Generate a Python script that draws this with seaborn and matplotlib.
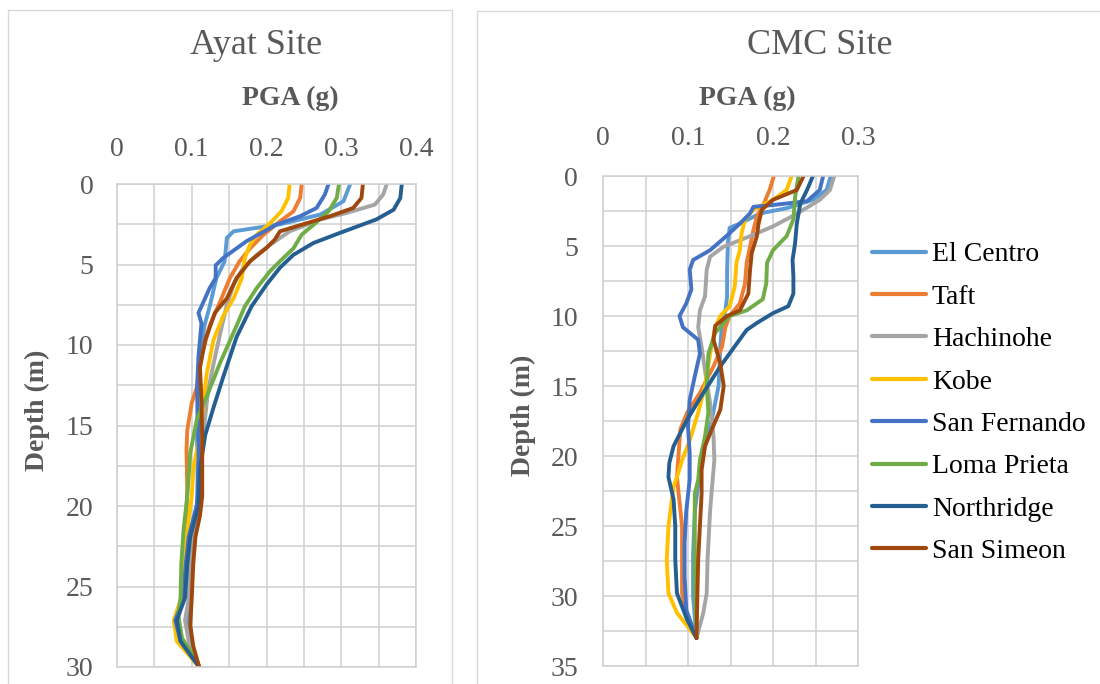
import matplotlib
matplotlib.use("Agg")
import matplotlib.pyplot as plt
from matplotlib.patches import Rectangle
from matplotlib.ticker import MultipleLocator, FuncFormatter
import pandas as pd
import seaborn as sns

# Ground-motion records and their line colours
records = ["El Centro", "Taft", "Hachinohe", "Kobe", "San Fernando",
           "Loma Prieta", "Northridge", "San Simeon"]
record_colors = ["#5B9BD5", "#ED7D31", "#A5A5A5", "#FFC000", "#4472C4",
                 "#70AD47", "#255E91", "#9E480E"]

# ---- Ayat site: (depth m, PGA g) profiles ----
ayat_el_centro = ([0, 1.07, 1.9, 2.5, 2.94, 3.35, 4.8, 5.84, 7.6, 8.8, 10.5, 12.2, 15, 19.4, 21.9, 23.6, 26.3, 27.4, 29, 30],
                  [0.312, 0.303, 0.272, 0.218, 0.156, 0.147, 0.144, 0.133, 0.124, 0.117, 0.112, 0.109, 0.107, 0.108, 0.102, 0.097, 0.097, 0.094, 0.100, 0.110])
ayat_taft = ([0, 0.87, 1.7, 2.32, 3.15, 4.0, 4.8, 5.84, 7.3, 8.8, 10.7, 12.6, 13.6, 15.3, 16.5, 19, 21.5, 23.6, 25.7, 27.2, 28.4, 30],
             [0.247, 0.245, 0.236, 0.218, 0.196, 0.178, 0.164, 0.151, 0.138, 0.124, 0.113, 0.107, 0.100, 0.094, 0.093, 0.094, 0.092, 0.089, 0.086, 0.078, 0.083, 0.110])
ayat_hachinohe = ([0, 0.66, 1.28, 1.8, 2.2, 2.94, 3.77, 4.4, 5.2, 6.25, 7.5, 9.3, 11.2, 12.8, 15.3, 17.5, 20, 21.9, 23.6, 25.7, 27.1, 28.4, 30],
                  [0.361, 0.356, 0.345, 0.307, 0.272, 0.231, 0.205, 0.187, 0.169, 0.156, 0.147, 0.138, 0.129, 0.122, 0.116, 0.111, 0.110, 0.102, 0.099, 0.096, 0.091, 0.096, 0.110])
ayat_kobe = ([0, 0.87, 1.7, 2.42, 3.15, 3.77, 4.6, 5.84, 7.1, 8.2, 9.7, 11.8, 13.4, 15.3, 17.7, 19.4, 21.5, 23.6, 25.7, 27.1, 28.4, 30],
             [0.231, 0.229, 0.220, 0.205, 0.187, 0.178, 0.171, 0.167, 0.156, 0.142, 0.129, 0.120, 0.116, 0.112, 0.102, 0.100, 0.094, 0.089, 0.086, 0.076, 0.080, 0.110])
ayat_san_fernando = ([0, 0.66, 1.49, 2.0, 2.53, 3.56, 4.6, 5.05, 5.84, 6.46, 7.6, 8.0, 8.66, 10.7, 12.8, 15.3, 17.5, 19.9, 21.9, 23.6, 25.7, 27.1, 28.4, 30],
                     [0.283, 0.278, 0.267, 0.245, 0.213, 0.173, 0.142, 0.132, 0.132, 0.124, 0.113, 0.109, 0.113, 0.109, 0.107, 0.109, 0.109, 0.107, 0.096, 0.092, 0.089, 0.078, 0.085, 0.110])
ayat_loma_prieta = ([0, 0.87, 1.7, 2.53, 3.15, 4.0, 4.8, 5.4, 6.46, 7.6, 8.8, 11.1, 13.2, 14.6, 16.7, 19.4, 21.5, 23.6, 25.7, 26.8, 28.2, 29, 30],
                    [0.297, 0.294, 0.283, 0.263, 0.247, 0.236, 0.218, 0.205, 0.187, 0.171, 0.160, 0.138, 0.120, 0.107, 0.098, 0.094, 0.089, 0.086, 0.085, 0.082, 0.087, 0.098, 0.110])
ayat_northridge = ([0, 0.87, 1.6, 2.2, 3.04, 3.66, 4.4, 5.2, 6.25, 7.6, 9.5, 12.0, 13.9, 15.6, 17.7, 20, 21.9, 23.6, 25.7, 27.1, 28.4, 30],
                   [0.381, 0.379, 0.370, 0.347, 0.298, 0.263, 0.236, 0.218, 0.200, 0.180, 0.160, 0.142, 0.129, 0.118, 0.111, 0.109, 0.098, 0.094, 0.091, 0.080, 0.085, 0.110])
ayat_san_simeon = ([0, 0.87, 1.49, 2.0, 2.63, 2.94, 3.46, 3.97, 4.8, 5.84, 7.1, 8.0, 9.7, 11.4, 13.4, 15.7, 19.4, 20.6, 21.9, 23.6, 25.7, 27.4, 28.7, 30],
                   [0.329, 0.327, 0.316, 0.285, 0.240, 0.218, 0.211, 0.200, 0.178, 0.160, 0.147, 0.131, 0.118, 0.111, 0.113, 0.114, 0.114, 0.111, 0.105, 0.102, 0.100, 0.098, 0.102, 0.110])

# ---- CMC site: (depth m, PGA g) profiles ----
cmc_el_centro = ([0, 1.0, 1.7, 2.3, 2.67, 3.4, 3.7, 4.8, 6.7, 8.6, 9.6, 10.5, 12.2, 15, 17.4, 19.3, 21, 24, 27, 30, 33],
                 [0.268, 0.263, 0.247, 0.216, 0.185, 0.161, 0.149, 0.147, 0.146, 0.146, 0.144, 0.140, 0.138, 0.136, 0.128, 0.120, 0.114, 0.108, 0.106, 0.106, 0.110])
cmc_taft = ([0, 1.0, 2.0, 2.9, 3.86, 5.05, 6.2, 7.7, 9.1, 10.0, 10.8, 12.2, 13.6, 15.5, 16.9, 18.1, 19.8, 21.5, 22.7, 25, 27.4, 29.8, 31.5, 33],
            [0.201, 0.196, 0.189, 0.181, 0.177, 0.173, 0.169, 0.167, 0.161, 0.149, 0.144, 0.140, 0.130, 0.114, 0.099, 0.091, 0.089, 0.087, 0.089, 0.093, 0.093, 0.093, 0.099, 0.110])
cmc_hachinohe = ([0, 1.0, 1.7, 2.7, 3.6, 4.3, 5.05, 5.76, 6.7, 8.6, 9.6, 10.8, 12.2, 13.9, 16.2, 18.6, 20.3, 21.7, 23.9, 27.4, 29.8, 31.2, 33],
                 [0.272, 0.267, 0.255, 0.228, 0.200, 0.173, 0.142, 0.126, 0.122, 0.120, 0.114, 0.112, 0.116, 0.120, 0.126, 0.130, 0.131, 0.129, 0.126, 0.123, 0.122, 0.118, 0.110])
cmc_kobe = ([0, 1.0, 1.7, 2.4, 3.1, 4.1, 5.3, 6.2, 7.9, 9.3, 10.0, 10.8, 12.7, 15, 16.9, 18.9, 20.3, 21.5, 22.2, 25, 27.4, 29.8, 31.2, 33],
            [0.222, 0.216, 0.200, 0.177, 0.167, 0.163, 0.161, 0.157, 0.155, 0.149, 0.138, 0.132, 0.126, 0.120, 0.112, 0.102, 0.093, 0.087, 0.083, 0.077, 0.075, 0.077, 0.087, 0.110])
cmc_san_fernando = ([0, 1.0, 1.8, 2.07, 2.2, 2.67, 3.4, 4.3, 5.3, 6.0, 6.7, 8.1, 9.1, 10.0, 10.8, 11.7, 12.7, 14.3, 16, 17.9, 19.8, 21.7, 23.9, 26.2, 28.6, 31, 33],
                    [0.259, 0.255, 0.240, 0.200, 0.177, 0.173, 0.161, 0.145, 0.126, 0.106, 0.102, 0.104, 0.098, 0.090, 0.094, 0.112, 0.114, 0.108, 0.102, 0.100, 0.102, 0.102, 0.098, 0.096, 0.096, 0.098, 0.110])
cmc_loma_prieta = ([0, 1.5, 3.1, 4.3, 5.3, 6.2, 7.7, 8.8, 9.6, 10.0, 10.8, 11.2, 12.7, 15, 16.9, 18.6, 20.3, 21.7, 22.7, 25, 28.6, 31, 33],
                   [0.230, 0.226, 0.224, 0.216, 0.200, 0.193, 0.192, 0.188, 0.169, 0.149, 0.138, 0.132, 0.124, 0.122, 0.124, 0.120, 0.114, 0.112, 0.108, 0.108, 0.108, 0.109, 0.110])
cmc_northridge = ([0, 1.0, 2.0, 3.4, 4.8, 6.0, 7.2, 8.4, 9.3, 9.8, 10.5, 11, 12, 13.6, 15.5, 17.4, 19.3, 20.5, 21.5, 23.1, 25, 27.4, 29.8, 31.7, 33],
                  [0.247, 0.240, 0.232, 0.228, 0.226, 0.223, 0.224, 0.224, 0.218, 0.200, 0.181, 0.169, 0.157, 0.138, 0.118, 0.099, 0.083, 0.078, 0.077, 0.083, 0.085, 0.085, 0.087, 0.099, 0.110])
cmc_san_simeon = ([0, 1.0, 1.7, 2.4, 3.4, 4.3, 5.5, 6.7, 8.4, 9.6, 10.0, 10.7, 11.7, 13.4, 15, 16.7, 18.1, 19.3, 21, 22.7, 25, 27.4, 30, 33],
                  [0.236, 0.228, 0.200, 0.187, 0.183, 0.181, 0.175, 0.173, 0.171, 0.161, 0.146, 0.132, 0.130, 0.138, 0.142, 0.138, 0.128, 0.120, 0.116, 0.116, 0.114, 0.112, 0.111, 0.110])

ayat_series = [ayat_el_centro, ayat_taft, ayat_hachinohe, ayat_kobe,
               ayat_san_fernando, ayat_loma_prieta, ayat_northridge, ayat_san_simeon]
cmc_series = [cmc_el_centro, cmc_taft, cmc_hachinohe, cmc_kobe,
              cmc_san_fernando, cmc_loma_prieta, cmc_northridge, cmc_san_simeon]

sns.set_theme(style="white")
plt.rcParams["font.family"] = ["Liberation Serif", "DejaVu Serif"]

TEXT = "#595959"
GRID = "#D0D0D0"
W, H = 1100, 684


def fx(px):
    return px / W


def fy(py):
    return 1 - py / H


def to_frame(series):
    parts = []
    for name, (depth, pga) in zip(records, series):
        parts.append(pd.DataFrame({"Depth": depth, "PGA": pga, "Record": name}))
    return pd.concat(parts, ignore_index=True)


def style_axes(ax, xmax, ymax, xpad, ypad):
    ax.set_xlim(0, xmax)
    ax.set_ylim(ymax, 0)
    ax.xaxis.tick_top()
    ax.xaxis.set_major_locator(MultipleLocator(0.1))
    ax.xaxis.set_minor_locator(MultipleLocator(0.05))
    ax.yaxis.set_major_locator(MultipleLocator(5))
    ax.yaxis.set_minor_locator(MultipleLocator(2.5))
    ax.xaxis.set_major_formatter(FuncFormatter(lambda v, _: f"{v:g}"))
    ax.yaxis.set_major_formatter(FuncFormatter(lambda v, _: f"{v:g}"))
    ax.grid(which="both", color=GRID, linewidth=1.1)
    ax.set_axisbelow(True)
    ax.tick_params(which="both", length=0, labelsize=20, labelcolor=TEXT)
    ax.tick_params(axis="x", pad=xpad)
    ax.tick_params(axis="y", pad=ypad)
    for sp in ax.spines.values():
        sp.set_color(GRID)
        sp.set_linewidth(1.1)
    ax.set_xlabel("")
    ax.set_ylabel("")


fig = plt.figure(figsize=(W / 100, H / 100), dpi=100)

# Chart-area borders
fig.patches.append(Rectangle((fx(8), -0.02), fx(452) - fx(8), fy(10) + 0.02,
                             transform=fig.transFigure, fill=False,
                             edgecolor="#D9D9D9", linewidth=1.0))
fig.patches.append(Rectangle((fx(477), -0.02), 1.05 - fx(477), fy(11) + 0.02,
                             transform=fig.transFigure, fill=False,
                             edgecolor="#D9D9D9", linewidth=1.0))

ax1 = fig.add_axes([fx(117), fy(667), fx(416) - fx(117), fy(184) - fy(667)])
ax2 = fig.add_axes([fx(603), fy(666), fx(858) - fx(603), fy(176) - fy(666)])

line_kw = dict(x="PGA", y="Depth", hue="Record", hue_order=records,
               palette=record_colors, sort=False, estimator=None,
               linewidth=2.8, solid_joinstyle="round", solid_capstyle="round")

sns.lineplot(data=to_frame(ayat_series), ax=ax1, legend=False, **line_kw)
sns.lineplot(data=to_frame(cmc_series), ax=ax2, legend=True, **line_kw)

style_axes(ax1, 0.4, 30, 16, 17)
style_axes(ax2, 0.3, 35, 18, 18)

sns.move_legend(ax2, "center left", bbox_to_anchor=(fx(872), fy(403)),
                bbox_transform=fig.transFigure, frameon=False, title=None,
                fontsize=20, handlelength=1.95, handletextpad=0.2,
                labelspacing=0.61, borderpad=0, borderaxespad=0)
for ln in ax2.get_legend().get_lines():
    ln.set_linewidth(3.0)
for t in ax2.get_legend().get_texts():
    t.set_color("black")

# Panel titles and axis labels
fig.text(fx(256), fy(45), "Ayat Site", ha="center", va="center", fontsize=26, color=TEXT)
fig.text(fx(820), fy(45), "CMC Site", ha="center", va="center", fontsize=26, color=TEXT)
fig.text(fx(290), fy(98), "PGA (g)", ha="center", va="center", fontsize=20,
         fontweight="bold", color=TEXT)
fig.text(fx(747), fy(98), "PGA (g)", ha="center", va="center", fontsize=20,
         fontweight="bold", color=TEXT)
fig.text(fx(37), fy(410), "Depth (m)", ha="center", va="center", fontsize=20,
         fontweight="bold", color=TEXT, rotation=90)
fig.text(fx(523), fy(415), "Depth (m)", ha="center", va="center", fontsize=20,
         fontweight="bold", color=TEXT, rotation=90)

fig.savefig("out.png", dpi=100)
